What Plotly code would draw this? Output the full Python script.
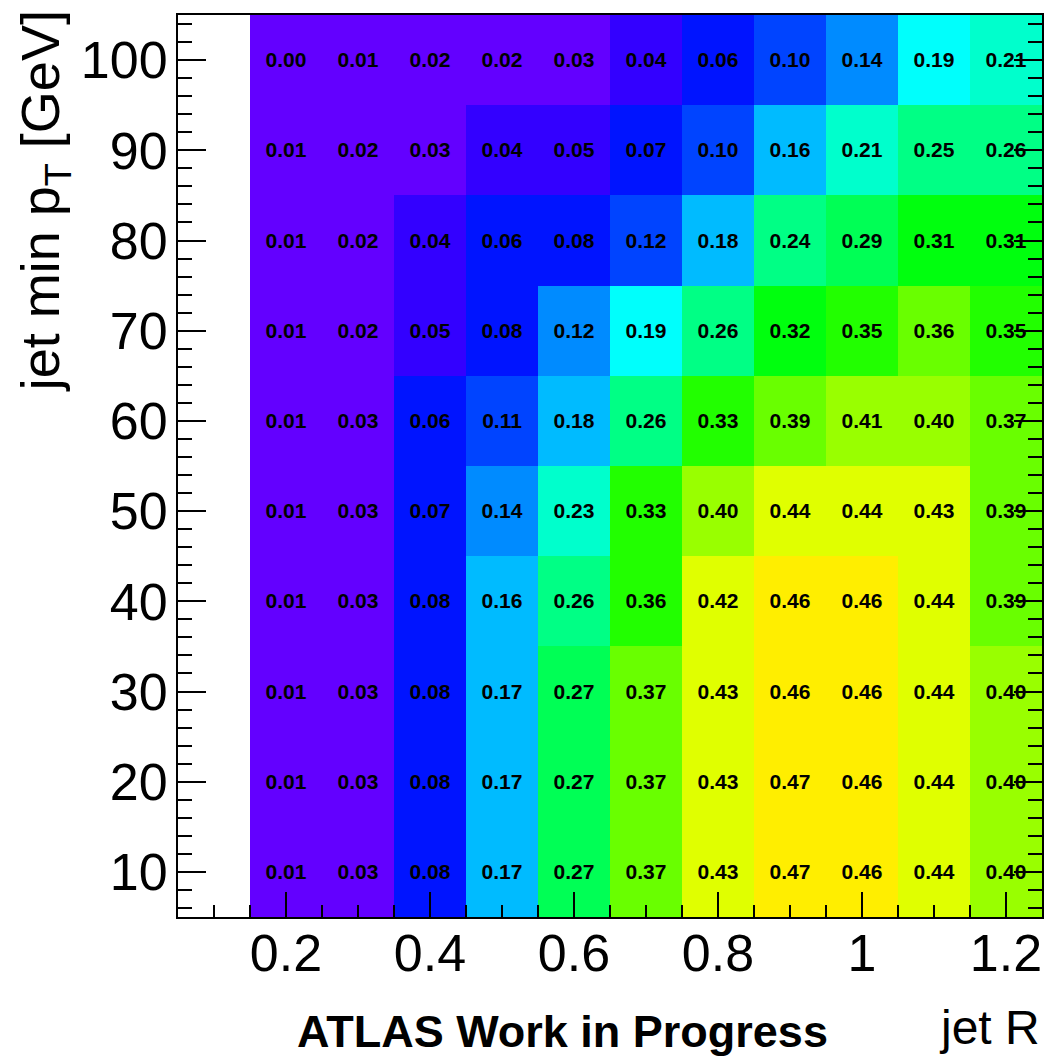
import colorsys
import plotly.graph_objects as go

# ---------------- data ----------------
jet_R = [0.2, 0.3, 0.4, 0.5, 0.6, 0.7, 0.8, 0.9, 1.0, 1.1, 1.2]
min_pt = [10, 20, 30, 40, 50, 60, 70, 80, 90, 100]

# rows follow min_pt (10 ... 100); columns follow jet_R
row_pt10 = [0.01, 0.028, 0.08, 0.17, 0.272, 0.37, 0.43, 0.47, 0.46, 0.44, 0.40]
row_pt20 = [0.01, 0.028, 0.08, 0.17, 0.272, 0.37, 0.43, 0.47, 0.46, 0.44, 0.40]
row_pt30 = [0.01, 0.028, 0.08, 0.17, 0.272, 0.37, 0.43, 0.46, 0.46, 0.44, 0.40]
row_pt40 = [0.01, 0.028, 0.08, 0.16, 0.26, 0.358, 0.422, 0.46, 0.46, 0.44, 0.388]
row_pt50 = [0.01, 0.028, 0.07, 0.14, 0.23, 0.332, 0.40, 0.44, 0.44, 0.43, 0.388]
row_pt60 = [0.01, 0.028, 0.062, 0.11, 0.178, 0.26, 0.332, 0.388, 0.41, 0.40, 0.37]
row_pt70 = [0.01, 0.02, 0.05, 0.08, 0.122, 0.19, 0.26, 0.32, 0.35, 0.362, 0.35]
row_pt80 = [0.01, 0.02, 0.04, 0.062, 0.08, 0.118, 0.178, 0.242, 0.29, 0.31, 0.31]
row_pt90 = [0.01, 0.02, 0.028, 0.04, 0.05, 0.07, 0.10, 0.16, 0.212, 0.25, 0.26]
row_pt100 = [0.00, 0.01, 0.02, 0.02, 0.028, 0.04, 0.062, 0.10, 0.14, 0.19, 0.212]

z = [row_pt10, row_pt20, row_pt30, row_pt40, row_pt50,
     row_pt60, row_pt70, row_pt80, row_pt90, row_pt100]

x_tick_vals = [0.2, 0.4, 0.6, 0.8, 1.0, 1.2]
x_tick_text = ["0.2", "0.4", "0.6", "0.8", "1", "1.2"]
y_tick_vals = [10, 20, 30, 40, 50, 60, 70, 80, 90, 100]
y_tick_text = ["10", "20", "30", "40", "50", "60", "70", "80", "90", "100"]

# ---------------- style: ROOT "pretty" palette, 20 contour levels ----------------
N_LEVELS = 20
N_COLORS = 50
Z_MIN, Z_MAX = 0.0, 0.6


def pretty_color(i):
    hue = 280.0 - (i + 1) * (280.0 / N_COLORS)
    r, g, b = colorsys.hls_to_rgb(hue / 360.0, 0.5, 1.0)
    return "rgb(%d,%d,%d)" % (round(r * 255), round(g * 255), round(b * 255))


colorscale = []
for k in range(N_LEVELS):
    idx = int((k + 0.99) * N_COLORS / N_LEVELS)
    if idx > N_COLORS - 1:
        idx = N_COLORS - 1
    c = pretty_color(idx)
    colorscale.append([k / N_LEVELS, c])
    colorscale.append([(k + 1) / N_LEVELS, c])

FONT = "Liberation Sans, Arial, Helvetica, sans-serif"

fig = go.Figure(
    go.Heatmap(
        x=jet_R,
        y=min_pt,
        z=z,
        zmin=Z_MIN,
        zmax=Z_MAX,
        colorscale=colorscale,
        showscale=False,
        texttemplate="%{z:.2f}",
        textfont=dict(family=FONT, size=21, color="black", weight="bold"),
        hoverinfo="skip",
    )
)

fig.update_layout(
    width=1044,
    height=1056,
    margin=dict(l=178, r=0, t=15, b=139),
    paper_bgcolor="white",
    plot_bgcolor="white",
    font=dict(family=FONT, color="black"),
    xaxis=dict(
        range=[0.05, 1.25],
        tickmode="array",
        tickvals=x_tick_vals,
        ticktext=x_tick_text,
        ticks="inside",
        ticklen=25,
        tickwidth=2,
        tickcolor="black",
        minor=dict(ticks="inside", dtick=0.05, tick0=0.05, ticklen=12,
                   tickwidth=2, tickcolor="black"),
        showline=True,
        linecolor="black",
        linewidth=2,
        mirror=True,
        showgrid=False,
        zeroline=False,
        tickfont=dict(family=FONT, size=52, color="black"),
        ticklabelstandoff=-10,
    ),
    yaxis=dict(
        range=[5, 105],
        tickmode="array",
        tickvals=y_tick_vals,
        ticktext=y_tick_text,
        ticks="inside",
        ticklen=28,
        tickwidth=2,
        tickcolor="black",
        minor=dict(ticks="inside", dtick=2, tick0=0, ticklen=14,
                   tickwidth=2, tickcolor="black"),
        showline=True,
        linecolor="black",
        linewidth=2,
        mirror="ticks",
        showgrid=False,
        zeroline=False,
        tickfont=dict(family=FONT, size=52, color="black"),
        ticklabelstandoff=-2,
    ),
    annotations=[
        dict(text="jet R", xref="paper", yref="paper", x=1.0, y=-0.1225,
             xanchor="right", yanchor="middle", showarrow=False,
             font=dict(family=FONT, size=48, color="black")),
        dict(text="<b>ATLAS Work in Progress</b>", xref="paper", yref="paper",
             x=0.1351, y=-0.1264, xanchor="left", yanchor="middle",
             showarrow=False, font=dict(family=FONT, size=45, color="black")),
        dict(text="jet min p<sub>T</sub> [GeV]", xref="paper", yref="paper",
             x=-0.1547, y=0.7938, xanchor="center", yanchor="middle",
             textangle=-90, showarrow=False,
             font=dict(family=FONT, size=54, color="black")),
    ],
)

fig.write_html("out.html")
